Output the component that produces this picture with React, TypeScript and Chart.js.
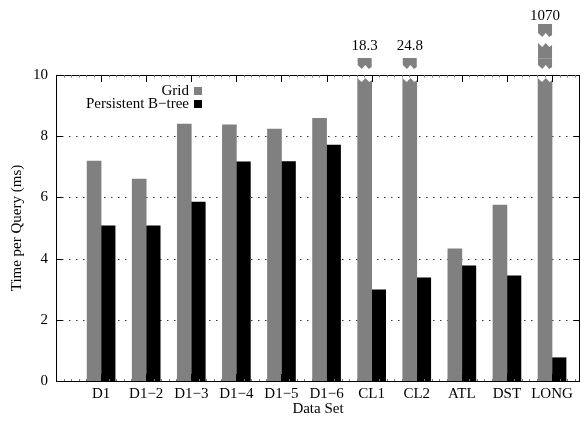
import { useEffect, useRef } from 'react';
import { Chart, registerables } from 'chart.js';

Chart.register(...registerables);

// ---- data ----
const CATEGORIES = ['D1', 'D1−2', 'D1−3', 'D1−4', 'D1−5', 'D1−6', 'CL1', 'CL2', 'ATL', 'DST', 'LONG'];
const GRID_TIMES = [7.19, 6.6, 8.4, 8.37, 8.23, 8.58, 18.3, 24.8, 4.32, 5.75, 1070];
const BTREE_TIMES = [5.07, 5.07, 5.85, 7.16, 7.17, 7.71, 2.98, 3.37, 3.76, 3.44, 0.76];
const SERIES_LABELS = ['Grid', 'Persistent B−tree'];
const SERIES_COLORS = ['#808080', '#000000'];
const Y_TICK_VALUES = [0, 2, 4, 6, 8, 10];
const Y_TITLE = 'Time per Query (ms)';
const X_TITLE = 'Data Set';

const Y_MIN = 0;
const Y_MAX = 10;
const X_MIN = -1;
const X_MAX = 10.62;
const FONT = "'Liberation Serif', 'Times New Roman', serif";
const FONT_SIZE = 15;

const PROFILE: [number, number][] = [[0, 0], [0.3, 4], [0.55, 0], [0.8, 4], [1, 2]];

function zigPts(x0: number, w: number, yb: number) {
  return PROFILE.map(([fx, dy]) => [x0 + fx * w, yb + dy]);
}

function piece(ctx: CanvasRenderingContext2D, x0: number, w: number, yTop: number, zigTop: number | null, zigBottom: number, color: string) {
  ctx.beginPath();
  if (zigTop === null) {
    ctx.moveTo(x0, yTop);
    ctx.lineTo(x0 + w, yTop);
  } else {
    zigPts(x0, w, zigTop).forEach(([x, y], i) => (i ? ctx.lineTo(x, y) : ctx.moveTo(x, y)));
  }
  zigPts(x0, w, zigBottom).reverse().forEach(([x, y]) => ctx.lineTo(x, y));
  ctx.closePath();
  ctx.fillStyle = color;
  ctx.fill();
}

const framePlugin = {
  id: 'gnuplotFrame',
  beforeDatasetsDraw(chart: any) {
    const { ctx, chartArea: a, scales } = chart;
    const y = scales.y;
    ctx.save();
    ctx.strokeStyle = '#333';
    ctx.lineWidth = 1;
    ctx.setLineDash([1.5, 5.5]);
    for (const t of y.ticks) {
      if (t.value <= y.min || t.value >= y.max) continue;
      const py = Math.round(y.getPixelForValue(t.value)) + 0.5;
      ctx.beginPath();
      ctx.moveTo(a.left + 6, py);
      ctx.lineTo(a.right - 6, py);
      ctx.stroke();
    }
    ctx.restore();
  },
  afterDatasetsDraw(chart: any) {
    const { ctx, chartArea: a, scales } = chart;
    const x = scales.x;
    const y = scales.y;
    const T = a.top;
    ctx.save();

    // broken bars
    const labels: { text: string; x: number; y: number }[] = [];
    chart.data.datasets.forEach((ds: any, di: number) => {
      const meta = chart.getDatasetMeta(di);
      meta.data.forEach((el: any, i: number) => {
        const v = ds.data[i].y;
        if (v <= y.max) return;
        const { x: cx, width } = el.getProps(['x', 'width'], true);
        const x0 = cx - width / 2;
        const color = ds.backgroundColor;
        // gap just below top axis
        ctx.beginPath();
        ctx.moveTo(x0 - 0.5, T - 1);
        ctx.lineTo(x0 + width + 0.5, T - 1);
        zigPts(x0 - 0.5, width + 1, T + 3).reverse().forEach(([px, py]) => ctx.lineTo(px, py));
        ctx.closePath();
        ctx.fillStyle = '#ffffff';
        ctx.fill();
        if (v < 100) {
          piece(ctx, x0, width, T - 17, null, T - 10, color);
          labels.push({ text: String(v), x: cx, y: T - 29 });
        } else {
          piece(ctx, x0, width, T - 51, null, T - 42, color);
          piece(ctx, x0, width, 0, T - 32, T - 10, color);
          ctx.strokeStyle = '#9a9a9a';
          ctx.lineWidth = 1;
          ctx.beginPath();
          ctx.moveTo(x0, T - 16.5);
          ctx.lineTo(x0 + width, T - 16.5);
          ctx.stroke();
          labels.push({ text: String(v), x: cx, y: T - 59 });
        }
      });
    });

    // border
    ctx.strokeStyle = '#000';
    ctx.lineWidth = 1;
    ctx.beginPath();
    ctx.rect(a.left + 0.5, T + 0.5, a.right - a.left - 1, a.bottom - T);
    ctx.stroke();

    // y ticks
    ctx.beginPath();
    for (const t of y.ticks) {
      const py = Math.round(y.getPixelForValue(t.value)) + 0.5;
      ctx.moveTo(a.left, py);
      ctx.lineTo(a.left + 6, py);
      ctx.moveTo(a.right - 6, py);
      ctx.lineTo(a.right, py);
    }
    ctx.stroke();

    // x major ticks
    ctx.beginPath();
    for (const t of x.ticks) {
      const px = Math.round(x.getPixelForValue(t.value)) + 0.5;
      ctx.moveTo(px, T);
      ctx.lineTo(px, T + 7);
      ctx.moveTo(px, a.bottom);
      ctx.lineTo(px, a.bottom - 7);
    }
    ctx.stroke();

    // x minor ticks
    ctx.strokeStyle = '#777';
    ctx.beginPath();
    for (let k = Math.ceil(x.min * 6); k <= x.max * 6; k++) {
      if (k % 6 === 0) continue;
      const px = Math.round(x.getPixelForValue(k / 6)) + 0.5;
      ctx.moveTo(px, T);
      ctx.lineTo(px, T + 2.5);
      ctx.moveTo(px, a.bottom);
      ctx.lineTo(px, a.bottom - 2);
    }
    ctx.stroke();

    // labels of broken bars
    ctx.fillStyle = '#000';
    ctx.font = `${FONT_SIZE}px ${FONT}`;
    ctx.textAlign = 'center';
    ctx.textBaseline = 'middle';
    labels.forEach((l) => ctx.fillText(l.text, l.x, l.y));

    // legend
    ctx.textAlign = 'right';
    chart.data.datasets.forEach((ds: any, di: number) => {
      const ly = T + 16 + di * 13;
      ctx.fillStyle = '#000';
      ctx.fillText(ds.label, a.left + 133, ly);
      ctx.fillStyle = ds.backgroundColor;
      ctx.fillRect(a.left + 138, ly - 4, 8, 8);
    });

    ctx.restore();
  },
};

export default function App() {
  const canvasRef = useRef<HTMLCanvasElement | null>(null);

  useEffect(() => {
    const canvas = canvasRef.current;
    if (!canvas) return;
    const series = [GRID_TIMES, BTREE_TIMES];
    const chart = new Chart(canvas, {
      type: 'bar',
      data: {
        datasets: series.map((vals, si) => ({
          label: SERIES_LABELS[si],
          data: vals.map((v, i) => ({ x: i, y: v })),
          backgroundColor: SERIES_COLORS[si],
          borderWidth: 0,
          barThickness: 14,
          clip: 0,
        })),
      },
      options: {
        animation: false,
        responsive: true,
        maintainAspectRatio: false,
        layout: { padding: { top: 75, right: 1, left: 0, bottom: 0 } },
        plugins: { legend: { display: false }, tooltip: { enabled: false } },
        scales: {
          x: {
            type: 'linear',
            min: X_MIN,
            max: X_MAX,
            offset: false,
            grid: { display: false, drawTicks: false, offset: false },
            border: { display: false },
            afterBuildTicks: (scale: any) => {
              scale.ticks = CATEGORIES.map((_, i) => ({ value: i }));
            },
            afterFit: (scale: any) => {
              scale.height = 40;
            },
            ticks: {
              autoSkip: false,
              maxRotation: 0,
              padding: 4,
              color: '#000',
              font: { family: FONT, size: FONT_SIZE },
              callback: (v: any) => CATEGORIES[v] ?? '',
            },
            title: {
              display: true,
              text: X_TITLE,
              color: '#000',
              font: { family: FONT, size: FONT_SIZE },
              padding: { top: 0, bottom: 3 },
            },
          },
          y: {
            type: 'linear',
            min: Y_MIN,
            max: Y_MAX,
            grid: { display: false, drawTicks: false },
            border: { display: false },
            afterBuildTicks: (scale: any) => {
              scale.ticks = Y_TICK_VALUES.map((v) => ({ value: v }));
            },
            afterFit: (scale: any) => {
              scale.width = 56;
            },
            ticks: {
              padding: 8,
              color: '#000',
              font: { family: FONT, size: FONT_SIZE },
            },
            title: {
              display: true,
              text: Y_TITLE,
              color: '#000',
              font: { family: FONT, size: FONT_SIZE },
              padding: { top: 8, bottom: 0 },
            },
          },
        },
      },
      plugins: [framePlugin],
    });
    return () => chart.destroy();
  }, []);

  return (
    <div style={{ position: 'fixed', left: 0, top: 0, width: 581, height: 421, background: '#fff' }}>
      <canvas ref={canvasRef} />
    </div>
  );
}
